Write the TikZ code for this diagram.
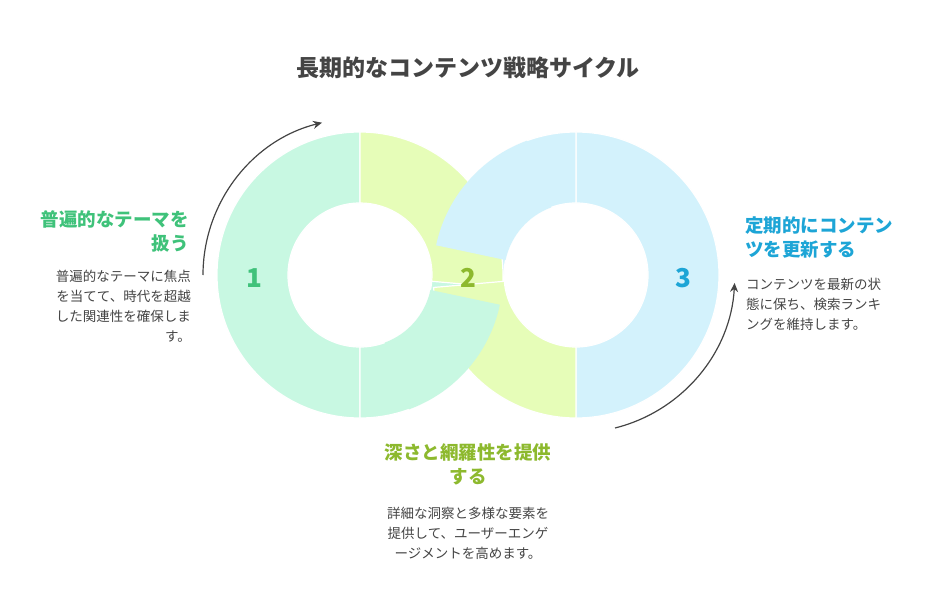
\documentclass[tikz,border=0pt]{standalone}
\usepackage{fontspec}
\setmainfont{Noto Sans CJK JP}
\usetikzlibrary{arrows.meta}
\definecolor{mint}{HTML}{C8F8E2}
\definecolor{lime}{HTML}{E6FDB8}
\definecolor{sky}{HTML}{D3F2FC}
\definecolor{minttxt}{HTML}{3FC27A}
\definecolor{limetxt}{HTML}{8DB92E}
\definecolor{skytxt}{HTML}{1DA5D6}
\definecolor{bodytxt}{HTML}{444444}
\tikzset{
  ring/.style={draw=white, line width=1.2pt},
  heading/.style={font=\bfseries\fontsize{18.5}{24}\selectfont, align=#1, inner sep=0pt},
  body/.style={text=bodytxt, font=\fontsize{13.5}{20}\selectfont, align=#1, inner sep=0pt},
  num/.style={font=\bfseries\fontsize{26}{26}\selectfont},
  cycarrow/.style={draw=bodytxt, line width=1.2pt, -{Stealth[length=9pt,width=8pt]}}
}
% sector of an annulus: centre, start, end (code angles)
\newcommand\sector[4]{\fill[#1] ($#2+(#3:143)$) arc[start angle=#3, end angle=#4, radius=143]
  -- ($#2+(#4:72)$) arc[start angle=#4, end angle=#3, radius=72] -- cycle;}
\usetikzlibrary{calc}
\begin{document}
\begin{tikzpicture}[x=1pt,y=-1pt]
  \useasboundingbox (0,0) rectangle (936,612);
  % rings
  \sector{mint, ring}{(360,275)}{90}{270}
  \sector{mint, ring}{(360,275)}{0}{90}
  \sector{sky, ring}{(576,275)}{-90}{90}
  \sector{sky, ring}{(576,275)}{-180}{-90}
  \sector{lime, ring}{(360,275)}{-90}{5}
  \sector{lime, ring}{(576,275)}{175}{90}
  \sector{sky}{(576,275)}{-110}{-168}
  \sector{mint}{(360,275)}{12}{70}
  % numbers
  \node[num, text=minttxt] (n1) at (254,278) {1};
  \node[num, text=limetxt] (n2) at (468,278) {2};
  \node[num, text=skytxt] (n3) at (683,278) {3};
  % cycle arrows
  \coordinate (a1) at (203,275);
  \coordinate (a2) at (615,428);
  \draw[cycarrow] (a1) arc[start angle=180, end angle=256, radius=157];
  \draw[cycarrow] (a2) arc[start angle=76, end angle=3, radius=158];
  % texts
  \node[font=\bfseries\fontsize{23}{28}\selectfont, text=bodytxt] (title) at (468,68) {長期的なコンテンツ戦略サイクル};
  \node[heading=right, text=minttxt, anchor=north east] (h1) at (189,210) {普遍的なテーマを\\扱う};
  \node[body=right, anchor=north east] (b1) at (191,270) {普遍的なテーマに焦点\\を当てて、時代を超越\\した関連性を確保しま\\す。};
  \node[heading=left, text=skytxt, anchor=north west] (h3) at (745,216) {定期的にコンテン\\ツを更新する};
  \node[body=left, anchor=north west] (b3) at (746,278) {コンテンツを最新の状\\態に保ち、検索ランキ\\ングを維持します。};
  \node[heading=center, text=limetxt, anchor=north] (h2) at (468,443) {深さと網羅性を提供\\する};
  \node[body=center, anchor=north] (b2) at (468,507) {詳細な洞察と多様な要素を\\提供して、ユーザーエンゲ\\ージメントを高めます。};
\end{tikzpicture}
\end{document}
